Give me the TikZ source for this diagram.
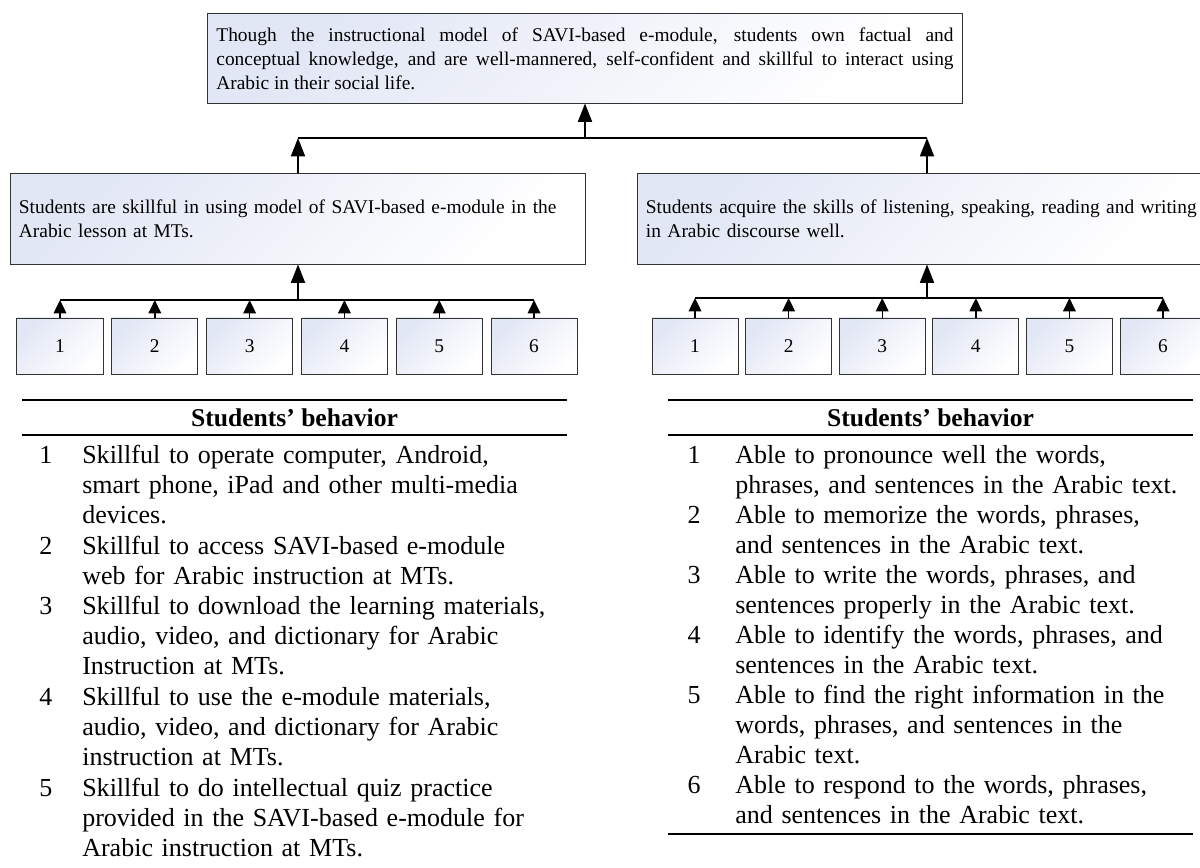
\documentclass[tikz,border=0pt]{standalone}
\usepackage{fontspec}
\setmainfont{Liberation Serif}
\usepackage{tikz}
\usetikzlibrary{arrows.meta}
\usetikzlibrary{positioning}
\definecolor{boxblue}{RGB}{226,231,245}
\tikzstyle{shadebox}=[draw=black!80, line width=0.7pt,
					top color=boxblue, bottom color=white, shading angle=45]
\newcommand{\boxfont}{\fontsize{13.8pt}{17.1pt}\selectfont\hyphenpenalty=10000 }
\newcommand{\listfont}{\fontsize{18.5pt}{21.5pt}\selectfont}
\newcommand{\headfont}{\fontsize{18.2pt}{22pt}\selectfont\bfseries}

\begin{document}
\begin{tikzpicture}[x=0.025cm, y=-0.025cm,
 mainbox/.style={shadebox, inner xsep=0.2cm, minimum height=2.25cm, font=\boxfont},
 numbox/.style={shadebox, minimum width=2.15cm, minimum height=1.4cm, inner sep=0pt, font=\boxfont},
 bigtip/.style={-{Triangle[width=10pt, length=13pt]}, line width=1pt},
 smalltip/.style={-{Triangle[width=9pt, length=9.5pt]}, line width=1pt},
 barline/.style={line width=1pt},
 tablerule/.style={line width=1.4pt},
 itemnum/.style={anchor=base, inner sep=0pt, font=\listfont},
 itemtext/.style={anchor=base west, inner sep=0pt, font=\listfont},
 ]
 \useasboundingbox (0,0) rectangle (1200,867);

 %Nodes
 \node[mainbox, align=justify, text width=18.425cm, inner xsep=0.225cm, minimum height=2.225cm] (goal_node) at (585,58.5)
  {Though the instructional model of SAVI-based e-module, students own factual and\linebreak
   conceptual knowledge, and are well-mannered, self-confident and skillful to interact using\linebreak
   Arabic in their social life.};
 \node[mainbox, text width=13.95cm] (skill_node) at (298,219)
  {Students are skillful in using model of SAVI-based e-module in the\\Arabic lesson at MTs.};
 \node[mainbox, text width=14.05cm] (lang_node) at (927,219)
  {Students acquire the skills of listening, speaking, reading and writing\\in Arabic discourse well.};

 \node[numbox] (skill1_node) at (60,346) {1};
 \node[numbox] (skill2_node) [right=0.195cm of skill1_node] {2};
 \node[numbox] (skill3_node) [right=0.195cm of skill2_node] {3};
 \node[numbox] (skill4_node) [right=0.195cm of skill3_node] {4};
 \node[numbox] (skill5_node) [right=0.195cm of skill4_node] {5};
 \node[numbox] (skill6_node) [right=0.195cm of skill5_node] {6};

 \node[numbox] (lang1_node) at (695,346) {1};
 \node[numbox] (lang2_node) [right=0.165cm of lang1_node] {2};
 \node[numbox] (lang3_node) [right=0.165cm of lang2_node] {3};
 \node[numbox] (lang4_node) [right=0.165cm of lang3_node] {4};
 \node[numbox] (lang5_node) [right=0.165cm of lang4_node] {5};
 \node[numbox] (lang6_node) [right=0.165cm of lang5_node] {6};

 \coordinate (top_bar) at (0,138);
 \coordinate (skill_bar) at (0,300);
 \coordinate (lang_bar) at (0,298);

 %Lines
 \draw[barline] (skill_node.north |- top_bar) -- (lang_node.north |- top_bar);
 \draw[bigtip] (skill_node.north) -- (skill_node.north |- top_bar);
 \draw[bigtip] (lang_node.north) -- (lang_node.north |- top_bar);
 \draw[bigtip] (goal_node.south |- top_bar) -- (goal_node.south);

 \draw[barline] (skill1_node.north |- skill_bar) -- (skill6_node.north |- skill_bar);
 \draw[barline] (lang1_node.north |- lang_bar) -- (lang6_node.north |- lang_bar);
 \foreach \i in {1,...,6} {
  \draw[smalltip] (skill\i_node.north) -- (skill\i_node.north |- skill_bar);
  \draw[smalltip] (lang\i_node.north) -- (lang\i_node.north |- lang_bar);
 }
 \draw[bigtip] (skill_node.south |- skill_bar) -- (skill_node.south);
 \draw[bigtip] (lang_node.south |- lang_bar) -- (lang_node.south);

 %Left table
 \draw[tablerule] (22,400) -- (567,400);
 \draw[tablerule] (22,435) -- (567,435);
 \node[font=\headfont] (skill_head) at (294.5,418) {Students’ behavior};
 \node[itemnum] (skill_num1) at (46,463) {1};
 \node[itemtext, text width=12.1cm] (skill_item1) at (82,463)
  {Skillful to operate computer, Android,\\smart phone, iPad and other multi-media\\devices.};
 \node[itemnum] (skill_num2) at (46,554) {2};
 \node[itemtext, text width=12.1cm] (skill_item2) at (82,554)
  {Skillful to access SAVI-based e-module\\web for Arabic instruction at MTs.};
 \node[itemnum] (skill_num3) at (46,614.5) {3};
 \node[itemtext, text width=12.1cm] (skill_item3) at (82,614.5)
  {Skillful to download the learning materials,\\audio, video, and dictionary for Arabic\\Instruction at MTs.};
 \node[itemnum] (skill_num4) at (46,705.5) {4};
 \node[itemtext, text width=12.1cm] (skill_item4) at (82,705.5)
  {Skillful to use the e-module materials,\\audio, video, and dictionary for Arabic\\instruction at MTs.};
 \node[itemnum] (skill_num5) at (46,796.5) {5};
 \node[itemtext, text width=12.1cm] (skill_item5) at (82,796.5)
  {Skillful to do intellectual quiz practice\\provided in the SAVI-based e-module for\\Arabic instruction at MTs.};

 %Right table
 \draw[tablerule] (668,400) -- (1193,400);
 \draw[tablerule] (668,435) -- (1193,435);
 \draw[tablerule] (668,834) -- (1193,834);
 \node[font=\headfont] (lang_head) at (930.5,418) {Students’ behavior};
 \node[itemnum] (lang_num1) at (694,463) {1};
 \node[itemtext, text width=11.45cm] (lang_item1) at (735,463)
  {Able to pronounce well the words,\\phrases, and sentences in the Arabic text.};
 \node[itemnum] (lang_num2) at (694,523) {2};
 \node[itemtext, text width=11.45cm] (lang_item2) at (735,523)
  {Able to memorize the words, phrases,\\and sentences in the Arabic text.};
 \node[itemnum] (lang_num3) at (694,583) {3};
 \node[itemtext, text width=11.45cm] (lang_item3) at (735,583)
  {Able to write the words, phrases, and\\sentences properly in the Arabic text.};
 \node[itemnum] (lang_num4) at (694,643) {4};
 \node[itemtext, text width=11.45cm] (lang_item4) at (735,643)
  {Able to identify the words, phrases, and\\sentences in the Arabic text.};
 \node[itemnum] (lang_num5) at (694,703) {5};
 \node[itemtext, text width=11.45cm] (lang_item5) at (735,703)
  {Able to find the right information in the\\words, phrases, and sentences in the\\Arabic text.};
 \node[itemnum] (lang_num6) at (694,793) {6};
 \node[itemtext, text width=11.45cm] (lang_item6) at (735,793)
  {Able to respond to the words, phrases,\\and sentences in the Arabic text.};
\end{tikzpicture}
\end{document}
